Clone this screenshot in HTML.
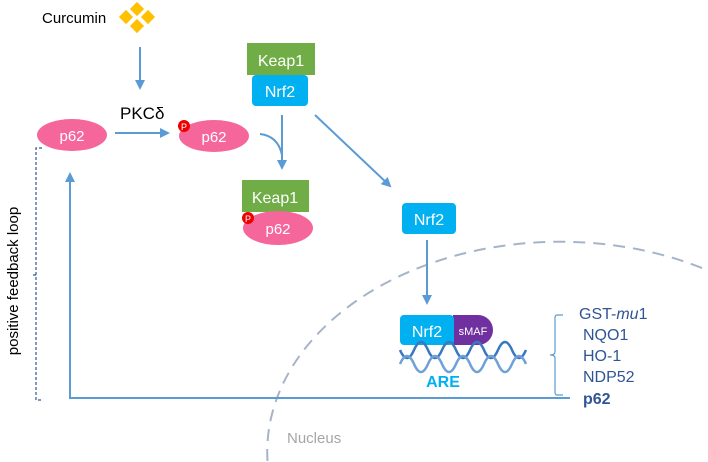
<!DOCTYPE html>
<html><head><meta charset="utf-8"><style>
html,body{margin:0;padding:0;background:#fff;overflow:hidden;width:708px;height:462px}
svg{display:block;overflow:hidden}
svg text{font-family:"Liberation Sans",sans-serif}
</style></head><body>
<svg width="708" height="462" viewBox="0 0 708 462" xmlns="http://www.w3.org/2000/svg">
<defs>
<marker id="a" markerWidth="10" markerHeight="10" refX="8" refY="5" orient="auto" markerUnits="userSpaceOnUse">
<path d="M0,0 L10,5 L0,10 Z" fill="#5b9bd5"/></marker>
</defs>
<path d="M267.5,461 A293,210 0 0 1 707,270" fill="none" stroke="#a6b4c8" stroke-width="2" stroke-dasharray="12,8"/>
<text x="287" y="443" font-size="15" fill="#a6a6a6">Nucleus</text>
<text x="42" y="23" font-size="15" fill="#000">Curcumin</text>
<g fill="#ffc000">
<rect x="-5" y="-5" width="10" height="10" transform="translate(137,9) rotate(45)"/>
<rect x="-5" y="-5" width="10" height="10" transform="translate(126,17) rotate(45)"/>
<rect x="-5" y="-5" width="10" height="10" transform="translate(148,17) rotate(45)"/>
<rect x="-5" y="-5" width="10" height="10" transform="translate(137,26) rotate(45)"/>
</g>
<line x1="140" y1="47" x2="140" y2="88" stroke="#5b9bd5" stroke-width="2" marker-end="url(#a)"/>
<text x="120" y="119" font-size="17" fill="#000">PKCδ</text>
<ellipse cx="72" cy="135" rx="35" ry="16" fill="#f5679a"/>
<text x="72" y="141" font-size="15" fill="#fff" text-anchor="middle">p62</text>
<line x1="115" y1="133" x2="168" y2="133" stroke="#5b9bd5" stroke-width="2" marker-end="url(#a)"/>
<ellipse cx="214" cy="136" rx="35" ry="16" fill="#f5679a"/>
<text x="214" y="142" font-size="15" fill="#fff" text-anchor="middle">p62</text>
<circle cx="184" cy="126" r="6" fill="#e00"/>
<text x="184" y="130" font-size="9" fill="#fff" text-anchor="middle">P</text>
<rect x="247" y="43" width="68" height="32" fill="#70ad47"/>
<text x="281" y="66" font-size="16" fill="#fff" text-anchor="middle">Keap1</text>
<rect x="252" y="75" width="56" height="31" rx="4" fill="#00b0f0"/>
<text x="280" y="97" font-size="16" fill="#fff" text-anchor="middle">Nrf2</text>
<line x1="282" y1="115" x2="282" y2="168" stroke="#5b9bd5" stroke-width="2" marker-end="url(#a)"/>
<path d="M260,134 Q278,136 282,155" fill="none" stroke="#5b9bd5" stroke-width="2"/>
<line x1="315" y1="115" x2="390" y2="186" stroke="#5b9bd5" stroke-width="2" marker-end="url(#a)"/>
<rect x="242" y="180" width="67" height="32" fill="#70ad47"/>
<text x="275" y="203" font-size="16" fill="#fff" text-anchor="middle">Keap1</text>
<ellipse cx="278" cy="228" rx="35" ry="17" fill="#f5679a"/>
<text x="278" y="234" font-size="15" fill="#fff" text-anchor="middle">p62</text>
<circle cx="248" cy="218" r="6" fill="#e00"/>
<text x="248" y="222" font-size="9" fill="#fff" text-anchor="middle">P</text>
<rect x="402" y="203" width="54" height="31" rx="4" fill="#00b0f0"/>
<text x="429" y="225" font-size="16" fill="#fff" text-anchor="middle">Nrf2</text>
<line x1="427" y1="240" x2="427" y2="303" stroke="#5b9bd5" stroke-width="2" marker-end="url(#a)"/>
<path d="M453,315 H478 A15,15 0 0 1 478,345 H453 Z" fill="#7030a0"/>
<rect x="400" y="315" width="54" height="30" rx="4" fill="#00b0f0"/>
<text x="427" y="337" font-size="16" fill="#fff" text-anchor="middle">Nrf2</text>
<text x="473" y="335" font-size="11" fill="#fff" text-anchor="middle">sMAF</text>
<g fill="none" stroke-width="2.5">
<path d="M400,350 Q407,366 414,350 T428,350 T442,350 T456,350 T470,350 T484,350 T498,350 T512,350 T526,350" stroke="#3a78c0"/>
<path d="M400,364 Q407,348 414,364 T428,364 T442,364 T456,364 T470,364 T484,364 T498,364 T512,364 T526,364" stroke="#6fa0d8"/>
</g>
<text x="443" y="387" font-size="16" font-weight="bold" fill="#00b0f0" text-anchor="middle">ARE</text>
<path d="M563,315 H557 Q555,315 555,318 V352 Q555,355 550,355 Q555,355 555,358 V392 Q555,395 557,395 H563" fill="none" stroke="#5b9bd5" stroke-width="1.2"/>
<g font-size="16" fill="#2f5597">
<text x="579" y="319">GST-<tspan font-style="italic">mu</tspan>1</text>
<text x="583" y="340">NQO1</text>
<text x="583" y="361">HO-1</text>
<text x="583" y="382">NDP52</text>
<text x="583" y="404" font-weight="bold">p62</text>
</g>
<path d="M570,398 H70 V174" fill="none" stroke="#5b9bd5" stroke-width="2" marker-end="url(#a)"/>
<path d="M42,148 H36 V400 H42 M36,275 H32" fill="none" stroke="#2f5597" stroke-width="1.2" stroke-dasharray="3,2"/>
<text transform="translate(18,281) rotate(-90)" font-size="15" fill="#000" text-anchor="middle">positive feedback loop</text>
</svg>
</body></html>
